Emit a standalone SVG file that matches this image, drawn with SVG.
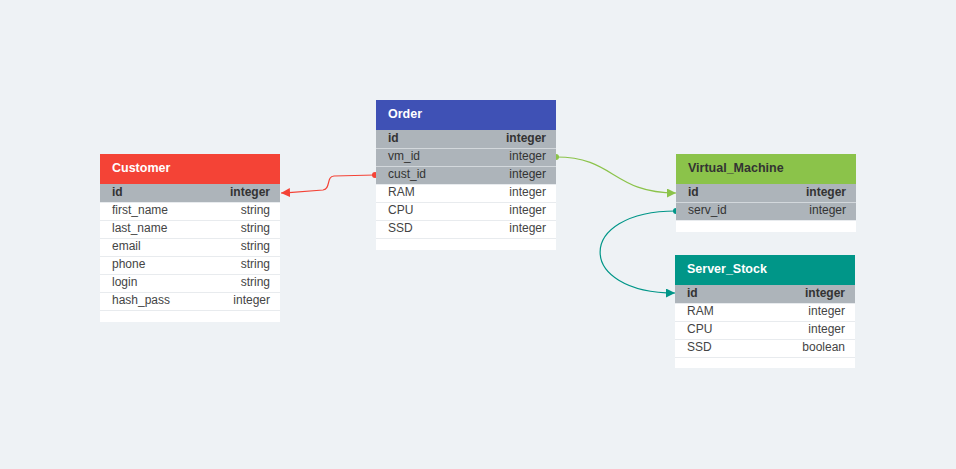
<svg xmlns="http://www.w3.org/2000/svg" width="956" height="469" viewBox="0 0 956 469">
<defs>
<style>
.bg{fill:#eef2f5}
.body{fill:#ffffff}
.pk{fill:#adb4ba}
.sep{stroke:#e8ebee;stroke-width:1}
.sepg{stroke:#d3d8dc;stroke-width:1}
.title{font-family:"Liberation Sans",Arial,sans-serif;font-size:12.5px;font-weight:bold;fill:#ffffff}
.titled{fill:#333333}
.f{font-family:"Liberation Sans",Arial,sans-serif;font-size:12px;fill:#444444}
.fg{fill:#333333}
.b{font-weight:bold}
.r{text-anchor:end}
.edge{fill:none;stroke-width:1.2}
</style>
<marker id="arRed" viewBox="0 0 10 10" refX="10" refY="5" markerWidth="9" markerHeight="9" markerUnits="userSpaceOnUse" orient="auto"><path d="M0,0 L10,5 L0,10 z" fill="#f44336"/></marker>
<marker id="arGreen" viewBox="0 0 10 10" refX="10" refY="5" markerWidth="9" markerHeight="9" markerUnits="userSpaceOnUse" orient="auto"><path d="M0,0 L10,5 L0,10 z" fill="#8bc34a"/></marker>
<marker id="arTeal" viewBox="0 0 10 10" refX="10" refY="5" markerWidth="9" markerHeight="9" markerUnits="userSpaceOnUse" orient="auto"><path d="M0,0 L10,5 L0,10 z" fill="#009688"/></marker>
</defs>
<rect class="bg" x="0" y="0" width="956" height="469"/>

<g id="connectors">
<path class="edge" stroke="#f44336" d="M375,175 L334,176 C326,176.5 331,189 323,190 L289,192.6 L281,193" marker-end="url(#arRed)"/>
<circle cx="375" cy="175" r="3" fill="#f44336"/>
<path class="edge" stroke="#8bc34a" d="M556,157 C615,157 612,193 676,193" marker-end="url(#arGreen)"/>
<circle cx="556" cy="157" r="3" fill="#8bc34a"/>
<path class="edge" stroke="#009688" d="M676,211 C575,211 575,293 675,293" marker-end="url(#arTeal)"/>
<circle cx="676" cy="211" r="3" fill="#009688"/>
</g>

<g id="customer">
<rect class="body" x="100" y="154" width="180" height="168"/>
<rect x="100" y="154" width="180" height="30" fill="#f44336"/>
<text class="title" x="112" y="172">Customer</text>
<rect class="pk" x="100" y="184" width="180" height="18"/>
<line class="sep" x1="100" x2="280" y1="202.5" y2="202.5"/>
<line class="sep" x1="100" x2="280" y1="220.5" y2="220.5"/>
<line class="sep" x1="100" x2="280" y1="238.5" y2="238.5"/>
<line class="sep" x1="100" x2="280" y1="256.5" y2="256.5"/>
<line class="sep" x1="100" x2="280" y1="274.5" y2="274.5"/>
<line class="sep" x1="100" x2="280" y1="292.5" y2="292.5"/>
<line class="sep" x1="100" x2="280" y1="310.5" y2="310.5"/>
<text class="f fg b" x="112" y="196">id</text><text class="f fg b r" x="270" y="196">integer</text>
<text class="f" x="112" y="214">first_name</text><text class="f r" x="270" y="214">string</text>
<text class="f" x="112" y="232">last_name</text><text class="f r" x="270" y="232">string</text>
<text class="f" x="112" y="250">email</text><text class="f r" x="270" y="250">string</text>
<text class="f" x="112" y="268">phone</text><text class="f r" x="270" y="268">string</text>
<text class="f" x="112" y="286">login</text><text class="f r" x="270" y="286">string</text>
<text class="f" x="112" y="304">hash_pass</text><text class="f r" x="270" y="304">integer</text>
</g>

<g id="order">
<rect class="body" x="376" y="100" width="180" height="150"/>
<rect x="376" y="100" width="180" height="30" fill="#3f51b5"/>
<text class="title" x="388" y="118">Order</text>
<rect class="pk" x="376" y="130" width="180" height="54"/>
<line class="sepg" x1="376" x2="556" y1="148.5" y2="148.5"/>
<line class="sepg" x1="376" x2="556" y1="166.5" y2="166.5"/>
<line class="sep" x1="376" x2="556" y1="184.5" y2="184.5"/>
<line class="sep" x1="376" x2="556" y1="202.5" y2="202.5"/>
<line class="sep" x1="376" x2="556" y1="220.5" y2="220.5"/>
<line class="sep" x1="376" x2="556" y1="238.5" y2="238.5"/>
<text class="f fg b" x="388" y="142">id</text><text class="f fg b r" x="546" y="142">integer</text>
<text class="f fg" x="388" y="160">vm_id</text><text class="f fg r" x="546" y="160">integer</text>
<text class="f fg" x="388" y="178">cust_id</text><text class="f fg r" x="546" y="178">integer</text>
<text class="f" x="388" y="196">RAM</text><text class="f r" x="546" y="196">integer</text>
<text class="f" x="388" y="214">CPU</text><text class="f r" x="546" y="214">integer</text>
<text class="f" x="388" y="232">SSD</text><text class="f r" x="546" y="232">integer</text>
</g>

<g id="virtual_machine">
<rect class="body" x="676" y="154" width="180" height="78"/>
<rect x="676" y="154" width="180" height="30" fill="#8bc34a"/>
<text class="title titled" x="688" y="172">Virtual_Machine</text>
<rect class="pk" x="676" y="184" width="180" height="36"/>
<line class="sepg" x1="676" x2="856" y1="202.5" y2="202.5"/>
<line class="sep" x1="676" x2="856" y1="220.5" y2="220.5"/>
<text class="f fg b" x="688" y="196">id</text><text class="f fg b r" x="846" y="196">integer</text>
<text class="f fg" x="688" y="214">serv_id</text><text class="f fg r" x="846" y="214">integer</text>
</g>

<g id="server_stock">
<rect class="body" x="675" y="255" width="180" height="113"/>
<rect x="675" y="255" width="180" height="30" fill="#009688"/>
<text class="title" x="687" y="273">Server_Stock</text>
<rect class="pk" x="675" y="285" width="180" height="18"/>
<line class="sep" x1="675" x2="855" y1="303.5" y2="303.5"/>
<line class="sep" x1="675" x2="855" y1="321.5" y2="321.5"/>
<line class="sep" x1="675" x2="855" y1="339.5" y2="339.5"/>
<line class="sep" x1="675" x2="855" y1="357.5" y2="357.5"/>
<text class="f fg b" x="687" y="297">id</text><text class="f fg b r" x="845" y="297">integer</text>
<text class="f" x="687" y="315">RAM</text><text class="f r" x="845" y="315">integer</text>
<text class="f" x="687" y="333">CPU</text><text class="f r" x="845" y="333">integer</text>
<text class="f" x="687" y="351">SSD</text><text class="f r" x="845" y="351">boolean</text>
</g>
</svg>
